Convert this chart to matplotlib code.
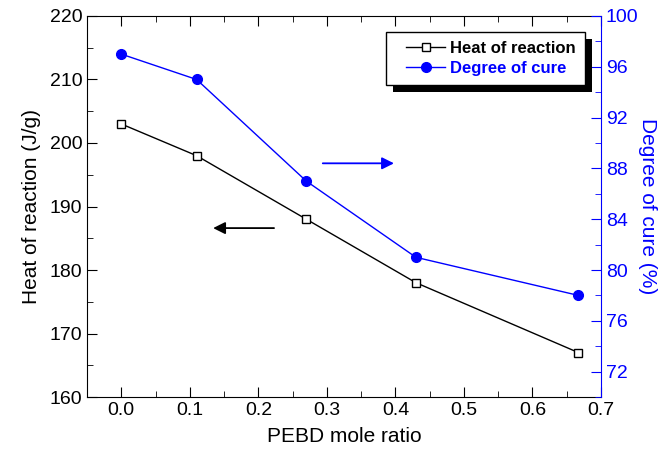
import matplotlib
matplotlib.use('Agg')
import matplotlib.pyplot as plt
from matplotlib.patches import Rectangle
from matplotlib.ticker import MultipleLocator
from matplotlib.legend_handler import HandlerLine2D

plt.rcParams['font.family'] = ['Liberation Sans', 'DejaVu Sans']

# data
mole_ratio = [0.0, 0.11, 0.27, 0.43, 0.667]
heat = [203, 198, 188, 178, 167]
cure = [97, 95, 87, 81, 78]

fig = plt.figure(figsize=(6.61, 4.53), dpi=100)
ax = fig.add_axes([0.1316, 0.1236, 0.7776, 0.8411])
ax2 = ax.twinx()

l1, = ax.plot(mole_ratio, heat, 'k-', lw=1, marker='s', ms=6,
              mfc='white', mec='black', mew=1)
l2, = ax2.plot(mole_ratio, cure, '-', color='blue', lw=1, marker='o',
               ms=7, mfc='blue', mec='blue')

ax.set_xlim(-0.05, 0.7)
ax.set_ylim(160, 220)
ax2.set_ylim(70, 100)

ax.xaxis.set_major_locator(MultipleLocator(0.1))
ax.xaxis.set_minor_locator(MultipleLocator(0.05))
ax.yaxis.set_major_locator(MultipleLocator(10))
ax.yaxis.set_minor_locator(MultipleLocator(5))
ax2.yaxis.set_minor_locator(MultipleLocator(2))
ax2.set_yticks([72, 76, 80, 84, 88, 92, 96, 100])

ax.xaxis.set_major_formatter(matplotlib.ticker.FormatStrFormatter('%.1f'))

ax.tick_params(axis='both', which='both', direction='in', top=True,
               right=False, labelsize=14)
ax.tick_params(which='major', length=7)
ax.tick_params(which='minor', length=4)
ax2.tick_params(axis='y', which='both', direction='in', colors='blue',
                labelsize=14)
ax2.tick_params(which='major', length=7)
ax2.tick_params(which='minor', length=4)

ax2.spines['right'].set_color('blue')
ax2.spines['left'].set_visible(False)
ax2.spines['top'].set_visible(False)
ax2.spines['bottom'].set_visible(False)
ax.spines['right'].set_visible(False)

ax.set_xlabel('PEBD mole ratio', fontsize=15, labelpad=6)
ax.set_ylabel('Heat of reaction (J/g)', fontsize=15, labelpad=6)
ax2.set_ylabel('Degree of cure (%)', fontsize=15, color='blue',
               rotation=270, labelpad=13)

# direction arrows
ax.annotate('', xy=(0.13, 186.6), xytext=(0.227, 186.6),
            arrowprops=dict(arrowstyle='-|>', color='black', lw=1.3,
                            mutation_scale=18))
ax2.annotate('', xy=(0.402, 88.4), xytext=(0.29, 88.4),
             arrowprops=dict(arrowstyle='-|>', color='blue', lw=1.3,
                             mutation_scale=18))

leg = ax2.legend([l1, l2], ['Heat of reaction', 'Degree of cure'],
                 loc='upper right', bbox_to_anchor=(0.969, 0.958),
                 fancybox=False, edgecolor='black', framealpha=1,
                 handlelength=3.0, handletextpad=0.3, borderpad=0.55,
                 borderaxespad=0, labelspacing=0.3,
                 handler_map={l1: HandlerLine2D(xpad=0.66),
                              l2: HandlerLine2D(xpad=0.66)},
                 prop={'weight': 'bold', 'size': 12})
leg.get_frame().set_linewidth(1)
leg.get_texts()[1].set_color('blue')
leg.set_zorder(10)

# black drop shadow behind the legend
fig.canvas.draw()
bb = leg.get_window_extent()
shadow = Rectangle((bb.x0 + 7, bb.y0 - 7), bb.width, bb.height,
                   transform=None, facecolor='black', edgecolor='none',
                   zorder=9)
ax2.add_artist(shadow)

fig.savefig('out.png', dpi=100)
